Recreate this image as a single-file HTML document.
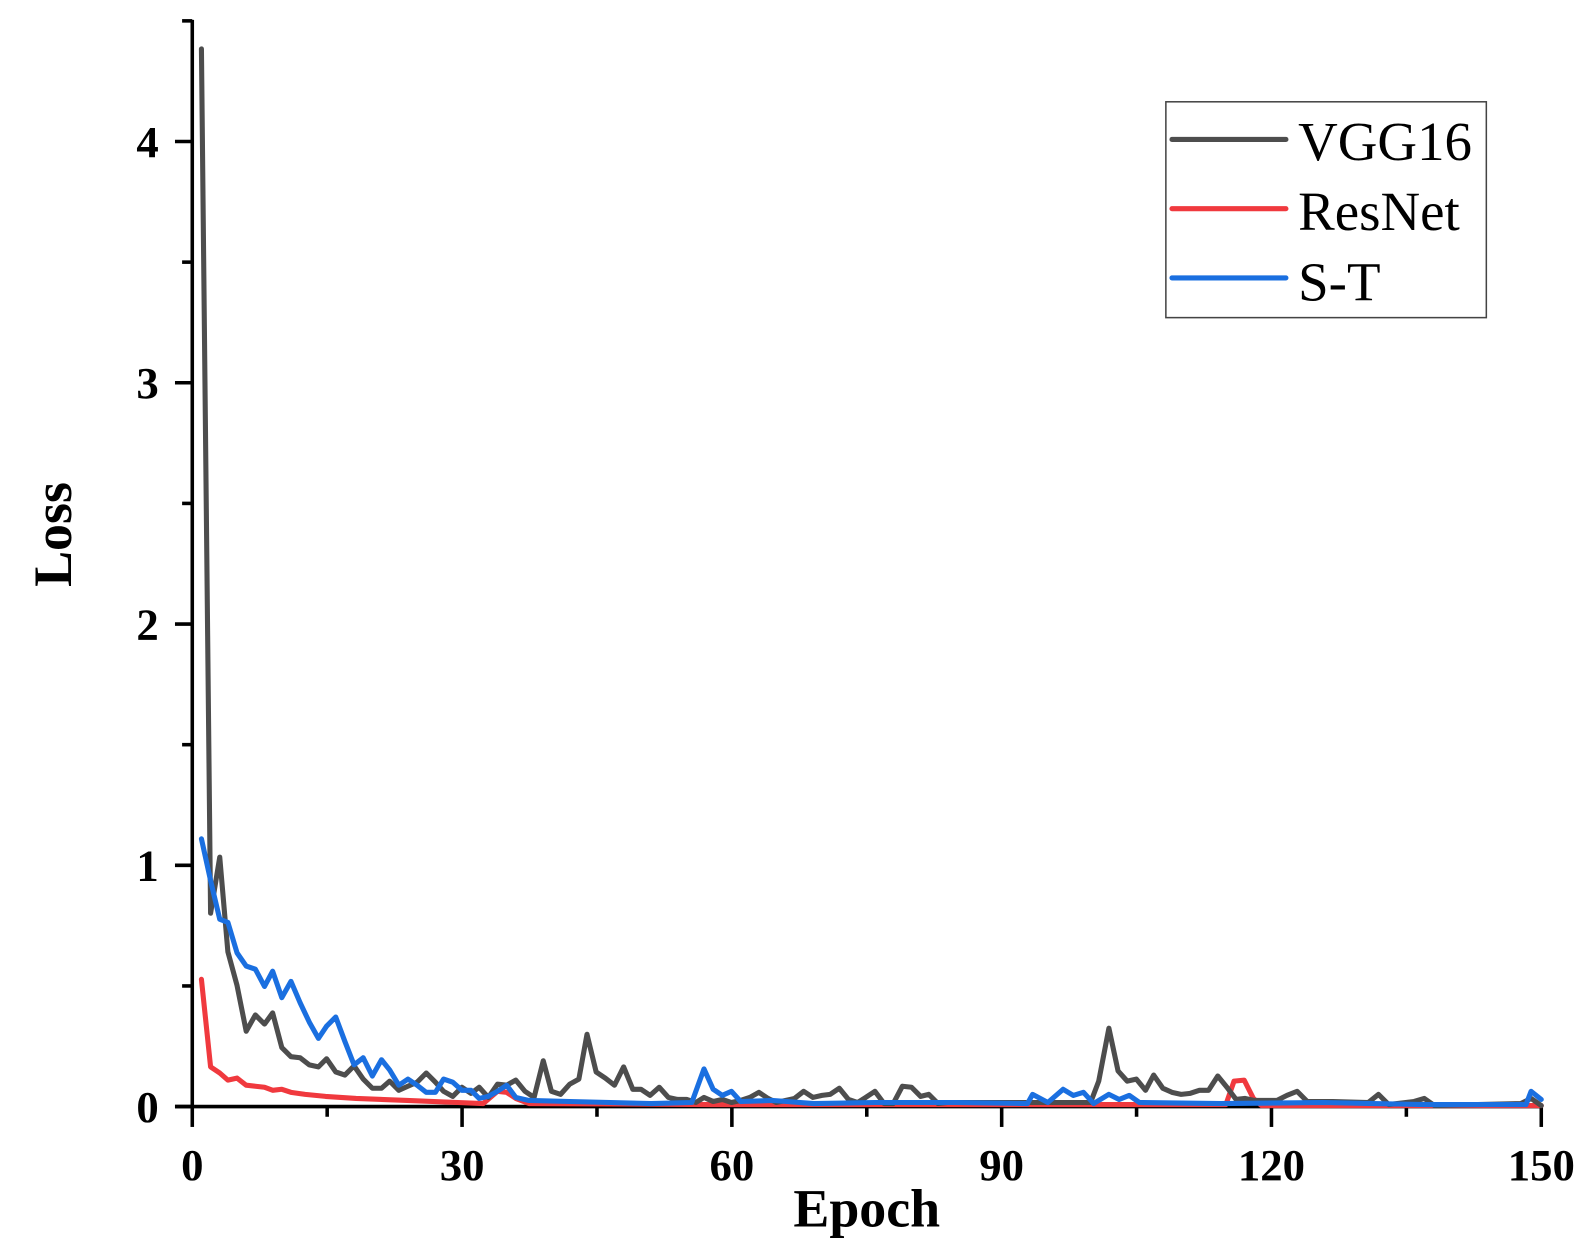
<!DOCTYPE html>
<html><head><meta charset="utf-8"><style>html,body{margin:0;padding:0;background:#fff}svg{display:block}</style></head>
<body>
<svg width="1596" height="1260" viewBox="0 0 1568.8 1237.7" preserveAspectRatio="none" xmlns="http://www.w3.org/2000/svg">
<g font-family="Liberation Serif, serif" fill="#000">
<g stroke="#000" stroke-width="3.5" fill="none">
<line x1="189" y1="19.5" x2="189" y2="1089"/>
<line x1="172" y1="1087" x2="1516" y2="1087"/>
<line x1="172" y1="1087" x2="189" y2="1087"/>
<line x1="179" y1="968.5" x2="189" y2="968.5"/>
<line x1="172" y1="850" x2="189" y2="850"/>
<line x1="179" y1="731.5" x2="189" y2="731.5"/>
<line x1="172" y1="613" x2="189" y2="613"/>
<line x1="179" y1="494.5" x2="189" y2="494.5"/>
<line x1="172" y1="376" x2="189" y2="376"/>
<line x1="179" y1="257.5" x2="189" y2="257.5"/>
<line x1="172" y1="139" x2="189" y2="139"/>
<line x1="179" y1="20.5" x2="189" y2="20.5"/>
<line x1="189" y1="1087" x2="189" y2="1107"/>
<line x1="321.6" y1="1087" x2="321.6" y2="1097"/>
<line x1="454.2" y1="1087" x2="454.2" y2="1107"/>
<line x1="586.8" y1="1087" x2="586.8" y2="1097"/>
<line x1="719.4" y1="1087" x2="719.4" y2="1107"/>
<line x1="852" y1="1087" x2="852" y2="1097"/>
<line x1="984.6" y1="1087" x2="984.6" y2="1107"/>
<line x1="1117.2" y1="1087" x2="1117.2" y2="1097"/>
<line x1="1249.8" y1="1087" x2="1249.8" y2="1107"/>
<line x1="1382.4" y1="1087" x2="1382.4" y2="1097"/>
<line x1="1515" y1="1087" x2="1515" y2="1107"/>
</g>
<g font-size="44" font-weight="bold" text-anchor="end">
<text x="156" y="1102">0</text>
<text x="156" y="865">1</text>
<text x="156" y="628">2</text>
<text x="156" y="391">3</text>
<text x="156" y="154">4</text>
</g>
<g font-size="44" font-weight="bold" text-anchor="middle">
<text x="189" y="1159">0</text>
<text x="454.2" y="1159">30</text>
<text x="719.4" y="1159">60</text>
<text x="984.6" y="1159">90</text>
<text x="1249.8" y="1159">120</text>
<text x="1515" y="1159">150</text>
</g>
<text x="852" y="1205" font-size="53" font-weight="bold" text-anchor="middle">Epoch</text>
<text transform="translate(70,525) rotate(-90)" font-size="53" font-weight="bold" text-anchor="middle">Loss</text>
</g>
<g fill="none" stroke-width="5" stroke-linejoin="round" stroke-linecap="round">
<polyline stroke="#f0393e" points="198,962 207,1048 216,1054 224,1061 233,1059 242,1066 251,1067 260,1068 268,1071 277,1070 286,1073 300,1075 320,1077 350,1079 400,1081 450,1083 475,1084 489,1072 498,1073 507,1079 520,1084 700,1085 1205,1085 1213,1062 1223,1061 1232,1079 1240,1086 1515,1086"/>
<polyline stroke="#4d4d4d" points="198,48 207,897 216,842 224,935 233,968 242,1013 251,997 260,1006 268,995 277,1029 286,1038 295,1039 304,1046 313,1048 321,1040 330,1053 339,1056 348,1047 357,1060 366,1069 375,1069 383,1062 392,1071 401,1067 410,1063 419,1054 428,1063 436,1072 445,1077 454,1068 463,1074 471,1068 480,1078 489,1065 498,1066 507,1061 516,1072 525,1078 534,1042 542,1072 551,1075 560,1065 569,1060 577,1016 586,1053 595,1059 604,1066 613,1048 622,1070 630,1070 639,1076 648,1068 657,1078 666,1080 675,1080 684,1083 692,1078 701,1082 710,1080 719,1083 728,1081 737,1078 746,1073 755,1079 763,1083 772,1081 781,1079 790,1072 799,1078 808,1076 816,1075 825,1069 834,1080 843,1083 851,1078 860,1072 869,1084 878,1084 887,1067 896,1068 905,1077 913,1075 922,1084 931,1083 1000,1083 1072,1083 1080,1062 1090,1010 1099,1052 1108,1062 1117,1060 1126,1071 1134,1056 1143,1069 1152,1073 1161,1075 1170,1074 1179,1071 1188,1071 1197,1057 1206,1068 1215,1080 1224,1079 1233,1081 1255,1081 1265,1076 1275,1072 1285,1082 1310,1082 1345,1083 1355,1075 1365,1085 1390,1082 1400,1079 1410,1086 1495,1084 1505,1079 1515,1086"/>
<polyline stroke="#1a6fe0" points="198,824 207,865 216,903 224,906 233,936 242,949 251,952 260,969 268,954 277,980 286,964 295,985 304,1004 313,1020 321,1008 330,999 339,1023 348,1046 357,1039 366,1057 375,1041 383,1051 392,1066 401,1060 410,1066 419,1073 428,1073 436,1060 445,1063 454,1071 463,1071 471,1079 480,1077 489,1072 498,1066 507,1078 520,1081 560,1082 600,1083 640,1084 680,1083 692,1050 701,1070 710,1076 719,1072 728,1082 760,1081 800,1084 860,1083 940,1083 1010,1084 1015,1075 1030,1083 1045,1070 1055,1076 1065,1073 1075,1084 1090,1075 1100,1080 1110,1076 1120,1083 1200,1084 1300,1083 1400,1085 1500,1085 1505,1072 1515,1080"/>
</g>
<rect x="1146" y="100" width="315" height="212" fill="#fff" stroke="#444" stroke-width="1.5"/>
<g stroke-width="5" stroke-linecap="round">
<line x1="1152" y1="137" x2="1264" y2="137" stroke="#4d4d4d"/>
<line x1="1152" y1="205" x2="1264" y2="205" stroke="#f0393e"/>
<line x1="1152" y1="273" x2="1264" y2="273" stroke="#1a6fe0"/>
</g>
<g font-family="Liberation Serif, serif" font-size="54" fill="#000">
<text x="1276" y="157">VGG16</text>
<text x="1276" y="226">ResNet</text>
<text x="1276" y="295">S-T</text>
</g>
</svg>
</body></html>
